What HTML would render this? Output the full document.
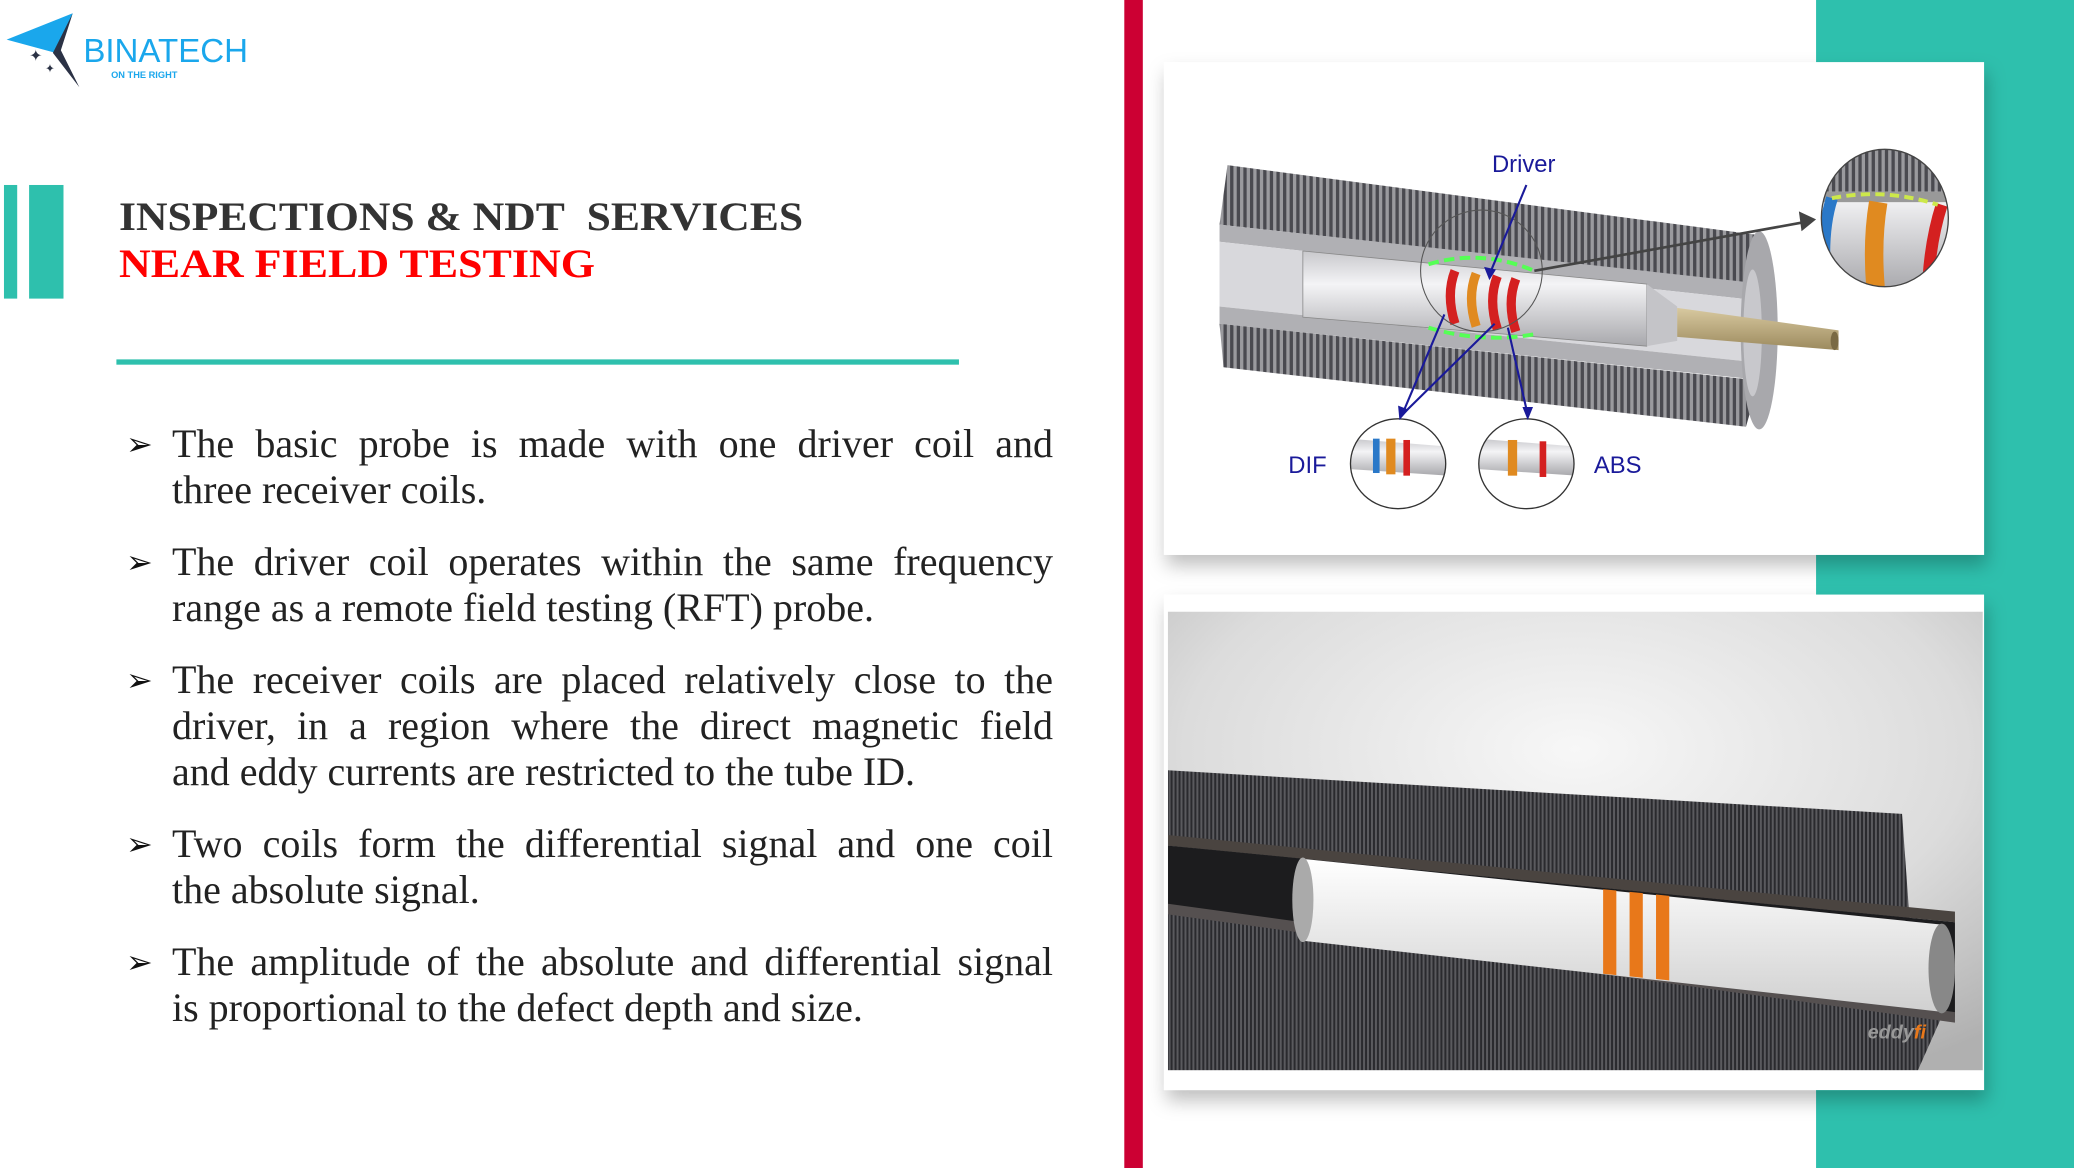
<!DOCTYPE html>
<html><head><meta charset="utf-8"><style>
html,body{margin:0;padding:0}
body{width:2074px;height:1168px;position:relative;overflow:hidden;background:#fff;font-family:"Liberation Serif",serif}
.abs{position:absolute}
.t1{left:119px;top:194px;font-size:40px;font-weight:bold;color:#333;white-space:nowrap;line-height:46px;transform:scaleX(1.09);transform-origin:0 0}
.t2{left:119px;top:241px;font-size:40px;font-weight:bold;color:#f00;white-space:nowrap;line-height:46px;transform:scaleX(1.1);transform-origin:0 0}
.bul{left:172px;top:421px;width:881px;font-size:40px;line-height:46px;color:#222}
.bul p{margin:0 0 26px 0;position:relative}
.bul p:before{content:"\27A2";position:absolute;left:-46px;top:0;font-family:"DejaVu Sans",sans-serif;font-size:32px;font-weight:bold;color:#111}
.bul .l{display:block;text-align:justify;text-align-last:justify;white-space:nowrap}
.bul .e{display:block;white-space:nowrap}
</style></head><body>
<svg class="abs" style="left:0;top:0" width="2074" height="1168" viewBox="0 0 1568 884" preserveAspectRatio="none">
<defs>
<pattern id="fin" width="5" height="10" patternUnits="userSpaceOnUse"><rect width="5" height="10" fill="#9a9a9e"/><rect width="2.5" height="10" fill="#4a4a50"/></pattern>
<pattern id="fin2" width="3" height="10" patternUnits="userSpaceOnUse"><rect width="3" height="10" fill="#5a5a5e"/><rect width="1.5" height="10" fill="#2a2a2e"/></pattern>
<radialGradient id="bg" cx="0.5" cy="0.3" r="0.8"><stop offset="0" stop-color="#f7f7f7"/><stop offset="0.6" stop-color="#dcdcdc"/><stop offset="1" stop-color="#b0b0b0"/></radialGradient>
<linearGradient id="cyl" x1="0" y1="0" x2="0" y2="1"><stop offset="0" stop-color="#c8c8cc"/><stop offset="0.35" stop-color="#f4f4f6"/><stop offset="1" stop-color="#a8a8ac"/></linearGradient>
<linearGradient id="brass" x1="0" y1="0" x2="0" y2="1"><stop offset="0" stop-color="#d8c9a0"/><stop offset="1" stop-color="#9c8a5e"/></linearGradient>
<linearGradient id="wp" x1="0" y1="0" x2="0" y2="1"><stop offset="0" stop-color="#fff"/><stop offset="1" stop-color="#d0d0d0"/></linearGradient>
<filter id="sh" x="-5%" y="-5%" width="115%" height="120%"><feDropShadow dx="2" dy="8" stdDeviation="7" flood-color="#000" flood-opacity="0.25"/></filter>
</defs>
<rect x="3" y="140" width="10" height="86" fill="#2ec0ad"/>
<rect x="22" y="140" width="26" height="86" fill="#2ec0ad"/>
<rect x="88" y="272" width="637" height="4" fill="#2ec0ad"/>
<polygon points="5,30 55,10 42,40" fill="#1aa7ec"/>
<polygon points="55,10 40,40 60,66 46,38" fill="#2b3245"/>
<text x="22" y="46" font-size="12" fill="#2b3245" font-family="DejaVu Sans">✦</text>
<text x="34" y="55" font-size="9" fill="#2b3245" font-family="DejaVu Sans">✦</text>
<text x="63" y="47" font-size="25" fill="#1aa7ec" font-family="Liberation Sans">BINATECH</text>
<text x="84" y="59" font-size="7" fill="#1aa7ec" font-family="Liberation Sans" font-weight="bold">ON THE RIGHT</text>
<rect x="850" y="0" width="14" height="884" fill="#cc0033"/>
<rect x="1373" y="0" width="195" height="884" fill="#2ec0ad"/>
<rect x="880" y="47" width="620" height="373" fill="#fff" filter="url(#sh)"/>
<polygon points="928,125 1330,178 1330,215 922,170" fill="url(#fin)"/>
<polygon points="922,170 1335,215 1335,228 922,183" fill="#b0b0b4"/>
<polygon points="922,183 1335,228 1335,275 922,232" fill="#d8d8dc"/>
<polygon points="922,232 1335,275 1335,288 922,245" fill="#b0b0b4"/>
<polygon points="922,245 1330,288 1320,323 925,278" fill="url(#fin)"/>
<ellipse cx="1330" cy="250" rx="14" ry="75" fill="#a8a8ac"/>
<ellipse cx="1325" cy="252" rx="7" ry="48" fill="#c8c8cc"/>
<polygon points="985,190 1245,215 1245,262 985,240" fill="url(#cyl)" stroke="#888" stroke-width="0.6"/>
<polygon points="1245,215 1268,232 1268,258 1245,262" fill="#c4c4c8"/>
<polygon points="1268,233 1390,250 1390,265 1268,255" fill="url(#brass)"/>
<ellipse cx="1387" cy="258" rx="3" ry="7" fill="#7a6a44"/>
<g stroke-width="7" fill="none">
<path d="M1100,205 q-7,18 0,40" stroke="#d42020"/>
<path d="M1116,207 q-7,18 0,40" stroke="#e08a20"/>
<path d="M1132,209 q-7,18 0,40" stroke="#d42020"/>
<path d="M1146,211 q-7,18 0,40" stroke="#d42020"/>
</g>
<path d="M1080,200 q40,-12 80,5" stroke="#5f5" stroke-width="3" fill="none" stroke-dasharray="8 4"/>
<path d="M1080,248 q40,12 80,5" stroke="#5f5" stroke-width="3" fill="none" stroke-dasharray="8 4"/>
<circle cx="1120" cy="205" r="46" fill="none" stroke="#555" stroke-width="0.8"/>
<line x1="1160" y1="205" x2="1365" y2="168" stroke="#444" stroke-width="2"/>
<polygon points="1373,166 1360,160 1362,175" fill="#444"/>
<clipPath id="cz"><ellipse cx="1425" cy="165" rx="48" ry="52"/></clipPath>
<g clip-path="url(#cz)"><rect x="1370" y="110" width="110" height="110" fill="url(#cyl)"/><rect x="1370" y="110" width="110" height="35" fill="url(#fin)"/><rect x="1370" y="145" width="110" height="8" fill="#999"/>
<path d="M1385,150 q-8,25 -5,60" stroke="#2a78c8" stroke-width="9" fill="none"/><path d="M1420,153 q-5,30 -2,65" stroke="#e08a20" stroke-width="14" fill="none"/><path d="M1468,155 q-8,25 -10,55" stroke="#d42020" stroke-width="9" fill="none"/>
<path d="M1385,150 q40,-8 80,5" stroke="#cde84a" stroke-width="3" fill="none" stroke-dasharray="7 4"/></g>
<ellipse cx="1425" cy="165" rx="48" ry="52" fill="none" stroke="#444" stroke-width="1"/>
<clipPath id="cd"><ellipse cx="1057" cy="351" rx="36" ry="34"/></clipPath>
<g clip-path="url(#cd)"><polygon points="1020,332 1095,338 1095,360 1020,355" fill="url(#cyl)"/><rect x="1038" y="332" width="5" height="26" fill="#2a78c8"/><rect x="1048" y="332" width="7" height="27" fill="#e08a20"/><rect x="1061" y="333" width="5" height="27" fill="#d42020"/></g>
<ellipse cx="1057" cy="351" rx="36" ry="34" fill="none" stroke="#333" stroke-width="1"/>
<clipPath id="ca"><ellipse cx="1154" cy="351" rx="36" ry="34"/></clipPath>
<g clip-path="url(#ca)"><polygon points="1117,332 1192,338 1192,360 1117,355" fill="url(#cyl)"/><rect x="1140" y="333" width="7" height="27" fill="#e08a20"/><rect x="1164" y="334" width="5" height="27" fill="#d42020"/></g>
<ellipse cx="1154" cy="351" rx="36" ry="34" fill="none" stroke="#333" stroke-width="1"/>
<g stroke="#1a1a9a" stroke-width="1.6" fill="none">
<line x1="1154" y1="140" x2="1126" y2="208"/><line x1="1092" y1="238" x2="1060" y2="314"/><line x1="1130" y1="245" x2="1060" y2="314"/><line x1="1140" y1="248" x2="1155" y2="314"/></g>
<g fill="#1a1a9a"><polygon points="1126,212 1122,202 1131,204"/><polygon points="1058,318 1057,307 1065,310"/><polygon points="1155,318 1151,308 1159,308"/></g>
<g font-family="Liberation Sans" font-size="18" fill="#1a1a9a"><text x="1128" y="130">Driver</text><text x="974" y="358">DIF</text><text x="1205" y="358">ABS</text></g>
<rect x="880" y="450" width="620" height="375" fill="#fff" filter="url(#sh)"/>
<rect x="883" y="463" width="616" height="347" fill="url(#bg)"/>
<clipPath id="cp"><rect x="883" y="463" width="616" height="347"/></clipPath>
<g clip-path="url(#cp)">
<polygon points="883,583 1438,616 1444,700 883,640" fill="url(#fin2)"/>
<polygon points="883,680 1470,765 1450,810 883,810" fill="url(#fin2)"/>
<polygon points="883,632 1478,690 1478,698 883,640" fill="#4a4440"/>
<polygon points="883,640 1478,698 1478,770 883,688" fill="#1c1c1e"/>
<polygon points="883,684 1478,766 1478,774 883,692" fill="#555050"/>
<polygon points="985,650 1470,700 1470,766 985,712" fill="url(#wp)"/>
<ellipse cx="985" cy="681" rx="8" ry="32" fill="#aaa"/>
<ellipse cx="1468" cy="733" rx="10" ry="34" fill="#888"/>
<g fill="#e8781a"><polygon points="1212,673 1222,674 1222,738 1212,737"/><polygon points="1232,675 1242,676 1242,740 1232,739"/><polygon points="1252,677 1262,678 1262,742 1252,741"/></g>
<text x="1412" y="786" font-family="Liberation Sans" font-size="15" font-style="italic" font-weight="bold" fill="#999">eddy<tspan fill="#e8781a">fi</tspan></text>
</g>
</svg>
<div class="abs t1">INSPECTIONS &amp; NDT&nbsp; SERVICES</div>
<div class="abs t2">NEAR FIELD TESTING</div>
<div class="abs bul">
<p><span class="l">The basic probe is made with one driver coil and</span><span class="e">three receiver coils.</span></p>
<p><span class="l">The driver coil operates within the same frequency</span><span class="e">range as a remote field testing (RFT) probe.</span></p>
<p><span class="l">The receiver coils are placed relatively close to the</span><span class="l">driver, in a region where the direct magnetic field</span><span class="e">and eddy currents are restricted to the tube ID.</span></p>
<p><span class="l">Two coils form the differential signal and one coil</span><span class="e">the absolute signal.</span></p>
<p><span class="l">The amplitude of the absolute and differential signal</span><span class="e">is proportional to the defect depth and size.</span></p>
</div>
</body></html>
